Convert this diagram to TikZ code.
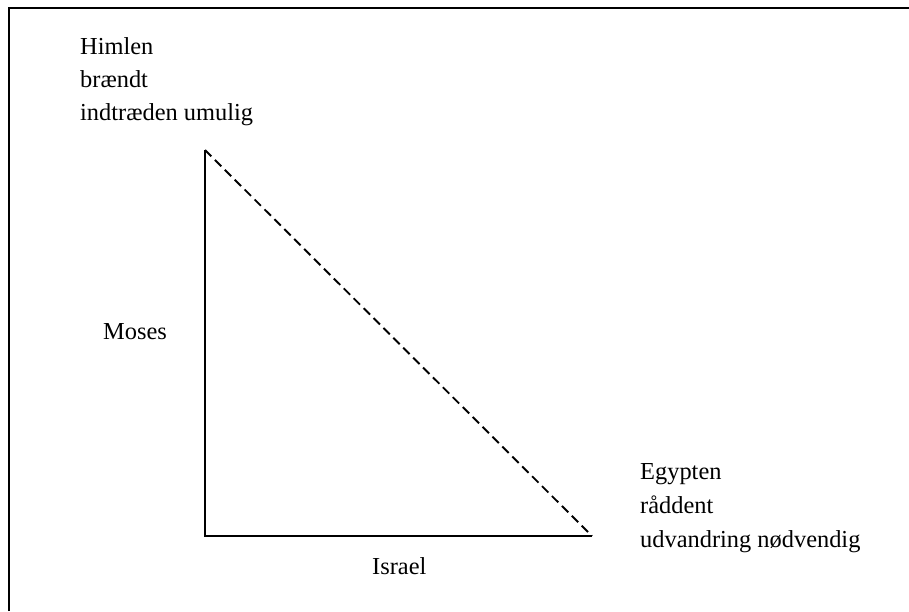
\documentclass[tikz,border=0pt]{standalone}
\usepackage{fontspec}
\setmainfont{Liberation Serif}
\begin{document}
\begin{tikzpicture}[x=1pt,y=-1pt,
  lbl/.style={anchor=base west,inner sep=0pt,font=\fontsize{24.4}{28}\selectfont},
  solidline/.style={line width=1.8pt},
  dashline/.style={line width=1.9pt,dash pattern=on 9pt off 5pt}]
\useasboundingbox (0,0) rectangle (909,611);
% frame (only left and top edges visible)
\coordinate (fbl) at (9,611);
\coordinate (ftl) at (9,8);
\coordinate (ftr) at (909,8);
\draw[line width=1.8pt] (fbl) -- (ftl) -- (ftr);
% triangle
\coordinate (A) at (205,150);
\coordinate (B) at (205,536);
\coordinate (C) at (592,536);
\draw[solidline] (A) -- (B) -- (C);
\draw[dashline] (A) -- (C);
% labels
\node[lbl] (himlen) at (80,54) {Himlen};
\node[lbl] (braendt) at (80,87) {brændt};
\node[lbl] (indtr) at (80,120) {indtræden umulig};
\node[lbl] (moses) at (103,339) {Moses};
\node[lbl] (israel) at (372,574) {Israel};
\node[lbl] (egypten) at (640,479) {Egypten};
\node[lbl] (raaddent) at (640,513) {råddent};
\node[lbl] (udv) at (640,547) {udvandring nødvendig};
\end{tikzpicture}
\end{document}
